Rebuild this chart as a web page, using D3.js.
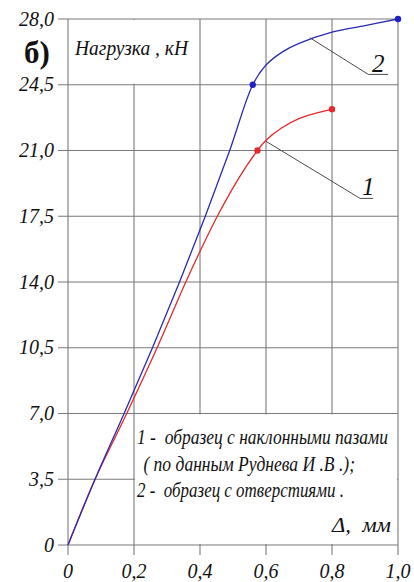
<!DOCTYPE html>
<html>
<head>
<meta charset="utf-8">
<script src="https://cdn.jsdelivr.net/npm/d3@7"></script>
<style>
body{margin:0;background:#fff;}
svg text{font-family:"Liberation Serif","DejaVu Serif",serif;fill:#111;}
</style>
</head>
<body>
<svg id="svg" width="414" height="582"></svg>
<script>
var width=+d3.select("#svg").attr("width")
var height=+d3.select("#svg").attr("height")
var svg=d3.select("#svg")

// data
var xTicks=[0,0.2,0.4,0.6,0.8,1.0]
var xTickLabels=["0","0,2","0,4","0,6","0,8","1,0"]
var yTicks=[0,3.5,7.0,10.5,14.0,17.5,21.0,24.5,28.0]
var yTickLabels=["0","3,5","7,0","10,5","14,0","17,5","21,0","24,5","28,0"]

// curve 2 - specimen with holes (blue)
var defl2=[0,0.082,0.17,0.256,0.338,0.416,0.49,0.56,0.6,0.65,0.7,0.8,0.9,1.0]
var load2=[0,3.5,7.0,10.5,14.0,17.5,21.0,24.5,25.55,26.25,26.7,27.3,27.65,28.0]
var marks2=[[0.56,24.5],[1.0,28.0]]
// curve 1 - specimen with inclined grooves (red)
var defl1=[0,0.082,0.178,0.27,0.357,0.41,0.46,0.52,0.574,0.6,0.647,0.7,0.8]
var load1=[0,3.5,7.0,10.5,14.0,16.0,17.75,19.6,21.0,21.55,22.2,22.7,23.2]
var marks1=[[0.574,21.0],[0.8,23.2]]

var legendLines=["1 -  образец с наклонными пазами"," ( по данным Руднева И .В .);","2 -  образец с отверстиями ."]

var x=d3.scaleLinear().domain([0,1]).range([68,398])
var y=d3.scaleLinear().domain([0,28]).range([545,19])

var gridColor="#7a7a7a"

//grid
svg.selectAll(".hgrid")
    .data(yTicks)
    .enter().append("line")
        .attr("class","hgrid")
        .attr("x1",x(0)-10).attr("x2",x(1))
        .attr("y1",d=>y(d)).attr("y2",d=>y(d))
        .style("stroke",gridColor).style("stroke-width",1.1)

svg.selectAll(".vgrid")
    .data(xTicks)
    .enter().append("line")
        .attr("class","vgrid")
        .attr("x1",d=>x(d)).attr("x2",d=>x(d))
        .attr("y1",y(28)).attr("y2",y(0)+10)
        .style("stroke",gridColor).style("stroke-width",1.1)

//white boxes that hide grid behind texts
svg.append("rect")
    .attr("x",x(0)+1).attr("y",y(28)+1)
    .attr("width",x(0.4)-x(0)-2).attr("height",y(24.5)-y(28)-2)
    .style("fill","#fff")
svg.append("rect")
    .attr("x",x(0.2)+1).attr("y",y(7)+1)
    .attr("width",x(1)-x(0.2)-2).attr("height",y(0)-y(7)-2)
    .style("fill","#fff")

//tick labels
svg.selectAll(".ylab")
    .data(yTicks)
    .enter().append("text")
        .attr("class","ylab")
        .attr("x",54).attr("y",d=>y(d)+6.5)
        .attr("text-anchor","end")
        .style("font-size","20px").style("font-style","italic")
        .text((d,i)=>yTickLabels[i])

svg.selectAll(".xlab")
    .data(xTicks)
    .enter().append("text")
        .attr("class","xlab")
        .attr("x",d=>x(d)).attr("y",578)
        .attr("text-anchor","middle")
        .style("font-size","20px").style("font-style","italic")
        .text((d,i)=>xTickLabels[i])

//curves
var line=d3.line().x(d=>x(d[0])).y(d=>y(d[1])).curve(d3.curveCatmullRom.alpha(0.5))

svg.append("path")
    .datum(defl1.map((d,i)=>[d,load1[i]]))
    .attr("d",line)
    .style("fill","none").style("stroke","#e42a2a").style("stroke-width",1.3)

svg.append("path")
    .datum(defl2.map((d,i)=>[d,load2[i]]))
    .attr("d",line)
    .style("fill","none").style("stroke","#2a2ab0").style("stroke-width",1.3)

svg.selectAll(".m1").data(marks1).enter().append("circle")
    .attr("cx",d=>x(d[0])).attr("cy",d=>y(d[1])).attr("r",3.2)
    .style("fill","#e42a2a")
svg.selectAll(".m2").data(marks2).enter().append("circle")
    .attr("cx",d=>x(d[0])).attr("cy",d=>y(d[1])).attr("r",3.2)
    .style("fill","#2020c8")

//leaders
var leader2=[[0.733,27.0],[0.91,25.05],[0.97,25.05]]
var leader1=[[0.599,21.5],[0.885,18.45],[0.925,18.45]]
var straight=d3.line().x(d=>x(d[0])).y(d=>y(d[1]))
svg.append("path").attr("d",straight(leader2))
    .style("fill","none").style("stroke","#4a4a4a").style("stroke-width",1)
svg.append("path").attr("d",straight(leader1))
    .style("fill","none").style("stroke","#4a4a4a").style("stroke-width",1)

svg.append("text").attr("x",x(0.94)).attr("y",72)
    .attr("text-anchor","middle")
    .style("font-size","25px").style("font-style","italic").text("2")
svg.append("text").attr("x",x(0.91)).attr("y",195)
    .attr("text-anchor","middle")
    .style("font-size","25px").style("font-style","italic").text("1")

//titles
svg.append("text").attr("x",24).attr("y",63)
    .style("font-size","31px").style("font-weight","bold").text("б)")
svg.append("text").attr("x",75).attr("y",55)
    .attr("textLength",113).attr("lengthAdjust","spacingAndGlyphs")
    .style("font-size","22px").style("font-style","italic").text("Нагрузка , кН")

//legend texts
var legendX=[137,139,137]
var legendLen=[251,216,207]
svg.selectAll(".leg")
    .data(legendLines)
    .enter().append("text")
        .attr("class","leg")
        .attr("x",(d,i)=>legendX[i]).attr("y",(d,i)=>444+i*26.5)
        .attr("textLength",(d,i)=>legendLen[i]).attr("lengthAdjust","spacingAndGlyphs")
        .style("font-size","22px").style("font-style","italic")
        .style("white-space","pre")
        .text(d=>d)

svg.append("text").attr("x",332).attr("y",532)
    .attr("textLength",59).attr("lengthAdjust","spacingAndGlyphs")
    .style("font-size","22px").style("font-style","italic")
    .style("white-space","pre")
    .text("Δ,  мм")
</script>
</body>
</html>
